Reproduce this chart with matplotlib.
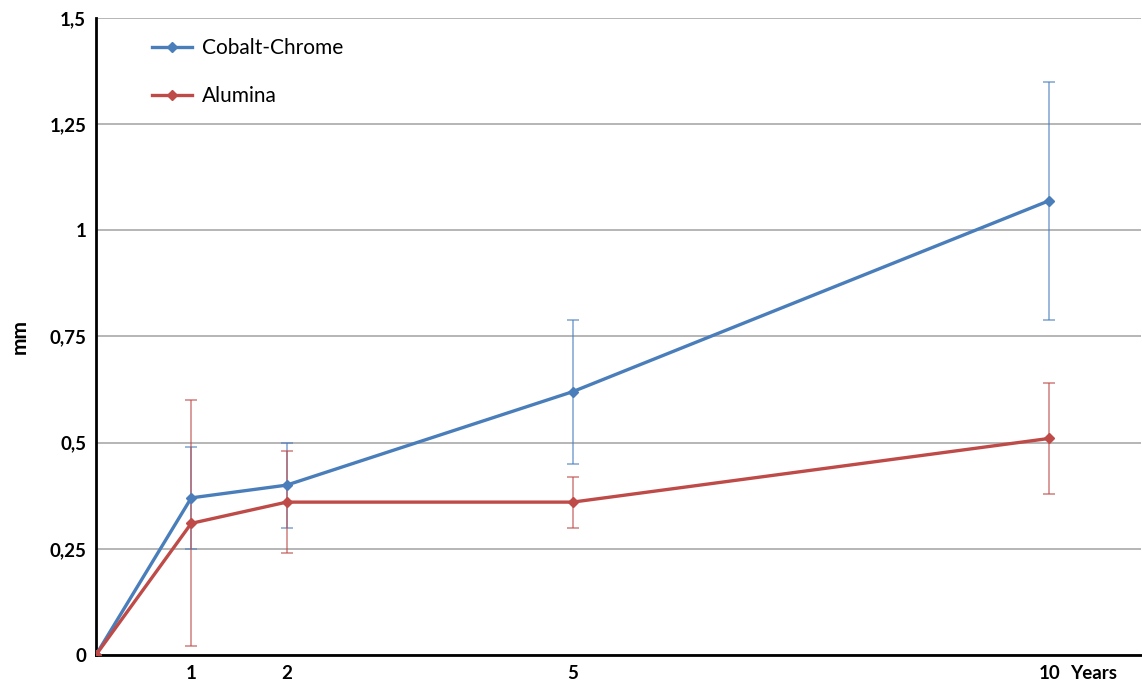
import matplotlib
matplotlib.use("Agg")
import matplotlib.pyplot as plt
from matplotlib.ticker import FuncFormatter

plt.rcParams['font.family'] = ['Lato', 'DejaVu Sans']

# data
years = [0, 1, 2, 5, 10]
cobalt = [0, 0.37, 0.40, 0.62, 1.07]
cobalt_err = [0, 0.12, 0.10, 0.17, 0.28]
alumina = [0, 0.31, 0.36, 0.36, 0.51]
alumina_err = [0, 0.29, 0.12, 0.06, 0.13]
xticks = [1, 2, 5, 10]
yticks = [0, 0.25, 0.5, 0.75, 1, 1.25, 1.5]

blue = '#4a7ebb'
red = '#be4b48'

fig = plt.figure(figsize=(11.42, 6.82), dpi=100)
ax = fig.add_axes([0.084, 0.0396, 0.915, 0.934])

# error bars (lighter, drawn under the lines)
ax.errorbar(years[1:], cobalt[1:], yerr=cobalt_err[1:], fmt='none', ecolor=blue,
            alpha=0.6, elinewidth=1.3, capsize=4, capthick=1.3, zorder=2)
ax.errorbar(years[1:], alumina[1:], yerr=alumina_err[1:], fmt='none', ecolor=red,
            alpha=0.6, elinewidth=1.3, capsize=4, capthick=1.3, zorder=2)

ax.plot(years, cobalt, color=blue, lw=2.4, marker='D', ms=5, label='Cobalt-Chrome', zorder=4)
ax.plot(years, alumina, color=red, lw=2.4, marker='D', ms=5, label='Alumina', zorder=4)

ax.set_xlim(0, 10.96)
ax.set_ylim(0, 1.5)
ax.set_yticks(yticks)
ax.yaxis.set_major_formatter(FuncFormatter(lambda v, p: ('%g' % v).replace('.', ',')))
ax.set_xticks(xticks)
ax.set_xticklabels(['1', '2', '5', '10'])
ax.tick_params(axis='both', length=0, labelsize=13.5, pad=7)
for lab in ax.get_xticklabels() + ax.get_yticklabels():
    lab.set_fontweight('bold')
ax.annotate('Years', xy=(10.22, 0), xycoords=('data', 'axes fraction'),
            xytext=(0, -7), textcoords='offset points', ha='left', va='top',
            fontsize=13.5, fontweight='bold')

ax.yaxis.grid(True, color='#b0b0b0', lw=1.3)
ax.set_axisbelow(True)
for s in ['top', 'right']:
    ax.spines[s].set_visible(False)
ax.spines['left'].set_linewidth(2)
ax.spines['bottom'].set_linewidth(2)
ax.set_ylabel('mm', fontsize=15, fontweight='bold', labelpad=14)

leg = ax.legend(loc='upper left', bbox_to_anchor=(0.036, 0.998), frameon=False,
                fontsize=15, handlelength=1.9, handletextpad=0.5, labelspacing=1.35)

fig.savefig('out.png', dpi=100)
